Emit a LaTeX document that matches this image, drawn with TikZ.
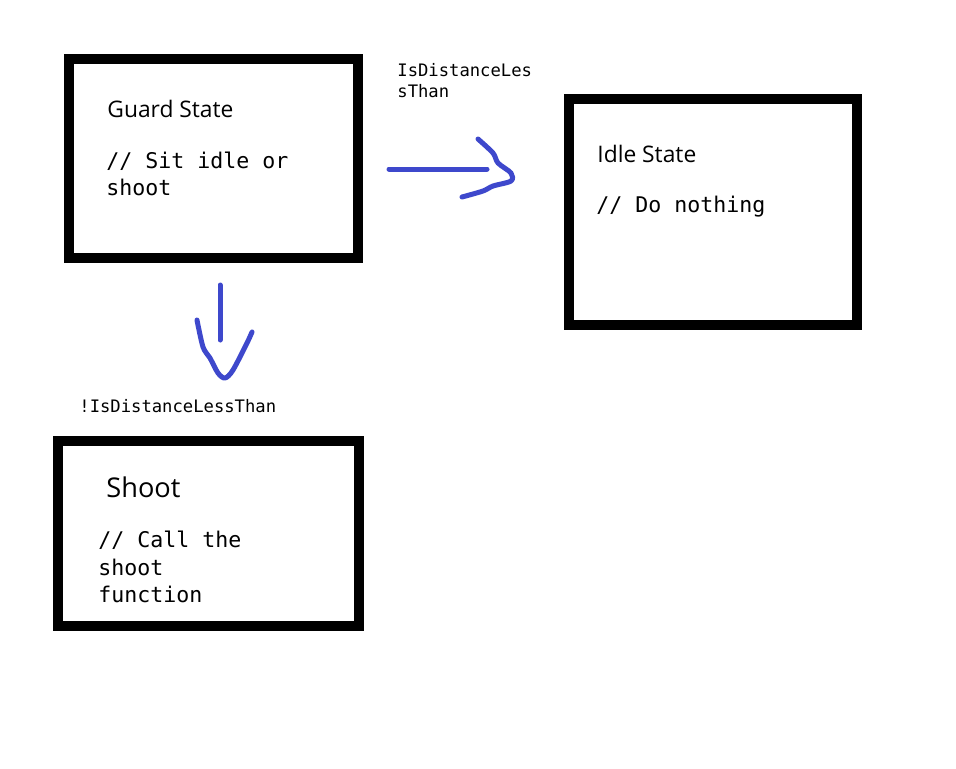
\documentclass[tikz,border=0pt]{standalone}
\usepackage{fontspec}
\setmainfont{Open Sans}
\setmonofont{DejaVu Sans Mono}
\definecolor{pen}{RGB}{62,72,204}
\tikzstyle{statebox}=[rectangle, draw, line width=5pt, inner sep=0pt]
\tikzstyle{title}=[anchor=base west, inner sep=0pt, font=\fontsize{11.4}{14}\selectfont]
\tikzstyle{bigtitle}=[anchor=base west, inner sep=0pt, font=\fontsize{13.6}{16}\selectfont]
\tikzstyle{code}=[anchor=base west, inner sep=0pt, font=\ttfamily\fontsize{10.8}{13}\selectfont]
\tikzstyle{cond}=[anchor=base west, inner sep=0pt, font=\ttfamily\fontsize{8.6}{10}\selectfont]
\tikzset{stroke/.style={line width=2.5pt, color=pen, line cap=round, line join=round}}

\begin{document}
\begin{tikzpicture}[x=0.5pt,y=-0.5pt]
  \fill[white] (0,0) rectangle (956,768);
  \useasboundingbox (0,0) rectangle (956,768);

  %% States
  \draw (213.5,158.5) node[statebox, minimum width=144.5pt, minimum height=99.5pt] (guard) {};
  \draw (713,212) node[statebox, minimum width=144pt, minimum height=113pt] (idle) {};
  \draw (208.5,533.5) node[statebox, minimum width=150.5pt, minimum height=92.5pt] (shoot) {};

  \draw (107,117) node[title] (guardname) {Guard State};
  \draw (106,168) node[code] (guardcodeA) {// Sit idle or};
  \draw (106,195) node[code] (guardcodeB) {shoot};

  \draw (597,162) node[title] (idlename) {Idle State};
  \draw (596,212) node[code] (idlecode) {// Do nothing};

  \draw (106,497) node[bigtitle] (shootname) {Shoot};
  \draw (98,547) node[code] (shootcodeA) {// Call the};
  \draw (98,575) node[code] (shootcodeB) {shoot};
  \draw (98,602) node[code] (shootcodeC) {function};

  %% Transitions
  \draw (397,76) node[cond] (nearA) {IsDistanceLes};
  \draw (397,97) node[cond] (nearB) {sThan};
  \draw (79,412) node[cond] (far) {!IsDistanceLessThan};

  \coordinate (rightfrom) at (389,169);
  \coordinate (rightto) at (487,169);
  \draw[stroke] (rightfrom) -- (rightto);
  \draw[stroke] plot[smooth, tension=0.5] coordinates {(478,139) (493,153) (498,163) (511,173) (511,181) (493,186) (483,191) (462,197)};

  \coordinate (downfrom) at (220,285);
  \coordinate (downto) at (220,340);
  \draw[stroke] (downfrom) -- (downto);
  \draw[stroke] plot[smooth, tension=0.5] coordinates {(197,320) (203,347) (210,358) (218,373) (225,378) (233,370) (247,343) (252,332)};
\end{tikzpicture}
\end{document}
